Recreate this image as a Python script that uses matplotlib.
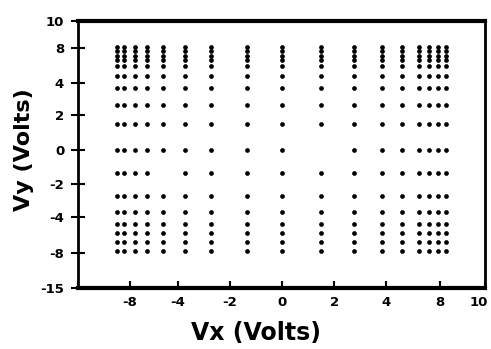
import matplotlib
matplotlib.use("Agg")
import matplotlib.pyplot as plt
import matplotlib.transforms as mtransforms
import numpy as np

# column positions (Vx) and row positions (Vy) of the measured grid of points
vx_cols = [-8.08, -7.74, -7.20, -6.61, -5.82, -4.74, -3.46, -1.70, 0.02,
           1.94, 3.56, 4.94, 5.92, 6.76, 7.25, 7.69, 8.08]
vy_rows = [8.05, 7.73, 7.38, 7.06, 6.63, 5.88, 4.98, 3.69, 2.24, 0.31,
           -1.43, -3.11, -4.35, -5.25, -5.93, -6.60, -7.25]
# grid points not visible in the picture (Vx, Vy)
missing = [(1.94, 0.31), (-5.82, -1.43)]

xtick_pos = [-10, -7.44, -5.09, -2.53, 0.02, 2.58, 5.14, 7.79, 10]
xtick_lbl = ["", "-8", "-4", "-2", "0", "2", "4", "8", "10"]
ytick_pos = [10, 7.95, 5.33, 2.94, 0.31, -2.25, -4.68, -7.42, -10]
ytick_lbl = ["10", "8", "4", "2", "0", "-2", "-4", "-8", "-15"]

pts_x, pts_y = [], []
for xv in vx_cols:
    for yv in vy_rows:
        if (xv, yv) in missing:
            continue
        pts_x.append(xv)
        pts_y.append(yv)

plt.rcParams['font.family'] = ['DejaVu Sans']
fig = plt.figure(figsize=(4.91, 3.49), dpi=100)
ax = fig.add_axes([0.159, 0.176, 0.829, 0.765])
ax.plot(pts_x, pts_y, 'o', color='black', ms=3.4, mec='black', mew=0)

ax.set_xlim(-10, 10)
ax.set_ylim(-10, 10)
ax.set_xticks(xtick_pos)
ax.set_xticklabels(xtick_lbl, fontsize=9.5, fontweight='bold')
ax.set_yticks(ytick_pos)
ax.set_yticklabels(ytick_lbl, fontsize=9.5, fontweight='bold')
ax.tick_params(axis='x', direction='in', length=5, width=1.5, pad=6)
ax.tick_params(axis='y', direction='inout', length=10, width=1.5, pad=5)

# keep the last x label inside the figure
last = ax.get_xticklabels()[-1]
last.set_transform(last.get_transform() +
                   mtransforms.ScaledTranslation(-6 / 100, 0, fig.dpi_scale_trans))

for side, lw in [('top', 3), ('bottom', 3), ('left', 2), ('right', 2)]:
    ax.spines[side].set_linewidth(lw)

fig.text(0.522, 0.045, "Vx (Volts)", fontsize=17, fontweight='bold',
         ha='center', va='center')
fig.text(0.048, 0.57, "Vy (Volts)", fontsize=16, fontweight='bold',
         ha='center', va='center', rotation=90)

fig.savefig("out.png", dpi=100)
